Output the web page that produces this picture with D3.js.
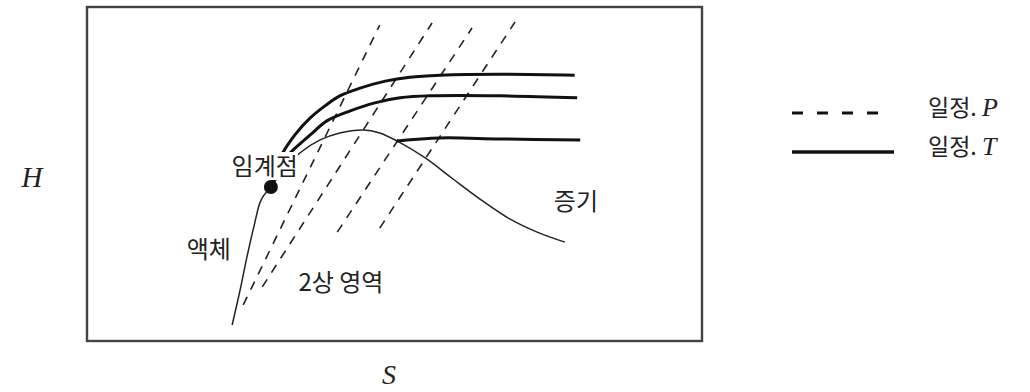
<!DOCTYPE html>
<html>
<head>
<meta charset="utf-8">
<script src="https://cdn.jsdelivr.net/npm/d3@7"></script>
<style>
  html, body { margin: 0; padding: 0; background: #fff; }
  svg { display: block; }
</style>
</head>
<body>
<svg id="chart" width="1030" height="392"></svg>
<script>
// Enthalpy–entropy (H–S) diagram in arbitrary units, S and H both on 0–100.

// Saturated liquid line, bottom up to the critical point
const liquidLine = [[23.6, 4.8], [24.9, 15.3], [26.0, 25.1], [27.2, 34.7], [28.3, 42.2], [29.9, 46.1]];
const criticalPoint = [29.9, 46.1];
// Saturated vapour line, from the critical point over the top and down the right side
const vaporLine = [[29.9, 46.1], [32.2, 51.8], [34.6, 56.3], [37.9, 60.2], [41.1, 62.3], [44.9, 63.2],
  [47.6, 62.3], [50.4, 59.9], [55.0, 54.8], [59.3, 48.8], [63.9, 42.5], [68.5, 36.8],
  [73.2, 32.6], [77.7, 29.6]];

// Constant-temperature lines (isotherms)
const isothermHigh = [[29.9, 46.1], [31.4, 54.8], [33.8, 61.7], [36.3, 66.8], [38.7, 70.4], [41.1, 73.4],
  [44.4, 75.7], [48.5, 77.8], [52.5, 79.0], [57.4, 79.6], [67.2, 79.9], [79.3, 79.6]];
const isothermMid = [[29.9, 46.1], [31.9, 54.2], [33.0, 56.3], [36.3, 61.7], [39.0, 65.9], [42.8, 68.9],
  [46.8, 71.3], [50.9, 72.8], [55.8, 73.4], [67.2, 73.4], [79.7, 72.8]];
const isothermLow = [[50.4, 59.9], [57.4, 60.8], [67.2, 60.5], [80.2, 60.2]];

// Constant-pressure lines (isobars), straight through the two-phase region
const isobars = [
  [[25.4, 10.8], [47.6, 94.6]],
  [[28.5, 16.2], [56.1, 95.2]],
  [[40.7, 32.6], [62.6, 93.7]],
  [[47.6, 33.8], [69.6, 95.5]]
];

const regionLabels = [
  { text: "임계점", s: 28.9, h: 49.7 },
  { text: "액체", s: 19.8, h: 24.9 },
  { text: "2상 영역", s: 41.3, h: 15.0 },
  { text: "증기", s: 79.5, h: 39.2 }
];
const legendItems = [
  { label: "일정. ", symbol: "P", dashed: true },
  { label: "일정. ", symbol: "T", dashed: false }
];
const axisTitles = { x: "S", y: "H" };

const svg = d3.select("#chart");
const plot = { left: 87, top: 7, right: 702, bottom: 341 };

const x = d3.scaleLinear().domain([0, 100]).range([plot.left, plot.right]);
const y = d3.scaleLinear().domain([0, 100]).range([plot.bottom, plot.top]);

const line = d3.line().x(d => x(d[0])).y(d => y(d[1])).curve(d3.curveCatmullRom.alpha(0.5));
const straight = d3.line().x(d => x(d[0])).y(d => y(d[1]));

const korean = "'Noto Sans CJK KR', 'Noto Sans', sans-serif";
const serif = "'Liberation Serif', 'DejaVu Serif', serif";

// Frame
svg.append("rect")
  .attr("x", plot.left).attr("y", plot.top)
  .attr("width", plot.right - plot.left).attr("height", plot.bottom - plot.top)
  .attr("fill", "none").attr("stroke", "#444").attr("stroke-width", 2.4);

// Isobars
svg.append("g").selectAll("path").data(isobars).join("path")
  .attr("d", straight)
  .attr("fill", "none").attr("stroke", "#222").attr("stroke-width", 1.6)
  .attr("stroke-dasharray", "9,8");

// Saturation dome
svg.append("path").datum(liquidLine).attr("d", line)
  .attr("fill", "none").attr("stroke", "#222").attr("stroke-width", 1.5);
svg.append("path").datum(vaporLine).attr("d", line)
  .attr("fill", "none").attr("stroke", "#222").attr("stroke-width", 1.5);

// Isotherms
svg.append("g").selectAll("path").data([isothermHigh, isothermMid, isothermLow]).join("path")
  .attr("d", line)
  .attr("fill", "none").attr("stroke", "#111").attr("stroke-width", 3)
  .attr("stroke-linecap", "butt");

// Critical point
svg.append("circle")
  .attr("cx", x(criticalPoint[0])).attr("cy", y(criticalPoint[1]))
  .attr("r", 7).attr("fill", "#111");

// Region labels (white backing on the critical-point label so it sits above the lines)
const labelG = svg.append("g");
regionLabels.forEach(d => {
  const t = labelG.append("text")
    .attr("x", x(d.s)).attr("y", y(d.h))
    .attr("text-anchor", "middle")
    .attr("font-family", korean).attr("font-size", 24)
    .attr("fill", "#222")
    .text(d.text);
  if (d.text === "임계점") {
    const b = t.node().getBBox();
    labelG.insert("rect", "text")
      .attr("x", b.x).attr("y", b.y + 5).attr("width", b.width).attr("height", b.height - 7)
      .attr("fill", "#fff");
  }
});

// Axis titles
svg.append("text").attr("x", 32).attr("y", 187)
  .attr("text-anchor", "middle")
  .attr("font-family", serif).attr("font-style", "italic").attr("font-size", 29)
  .attr("fill", "#222").text(axisTitles.y);
svg.append("text").attr("x", 389).attr("y", 384)
  .attr("text-anchor", "middle")
  .attr("font-family", serif).attr("font-style", "italic").attr("font-size", 28)
  .attr("fill", "#222").text(axisTitles.x);

// Legend
const legend = svg.append("g").attr("transform", "translate(792,113)");
legendItems.forEach((d, i) => {
  const row = legend.append("g").attr("transform", `translate(0,${i * 39})`);
  row.append("line")
    .attr("x1", 0).attr("x2", d.dashed ? 90 : 102)
    .attr("y1", 0).attr("y2", 0)
    .attr("stroke", "#111").attr("stroke-width", d.dashed ? 3 : 3.6)
    .attr("stroke-dasharray", d.dashed ? "11,14" : null);
  const t = row.append("text")
    .attr("x", 136).attr("y", 3)
    .attr("font-family", korean).attr("font-size", 23).attr("fill", "#222");
  t.append("tspan").text(d.label);
  t.append("tspan").attr("font-family", serif).attr("font-style", "italic").attr("font-size", 26).text(d.symbol);
});
</script>
</body>
</html>
